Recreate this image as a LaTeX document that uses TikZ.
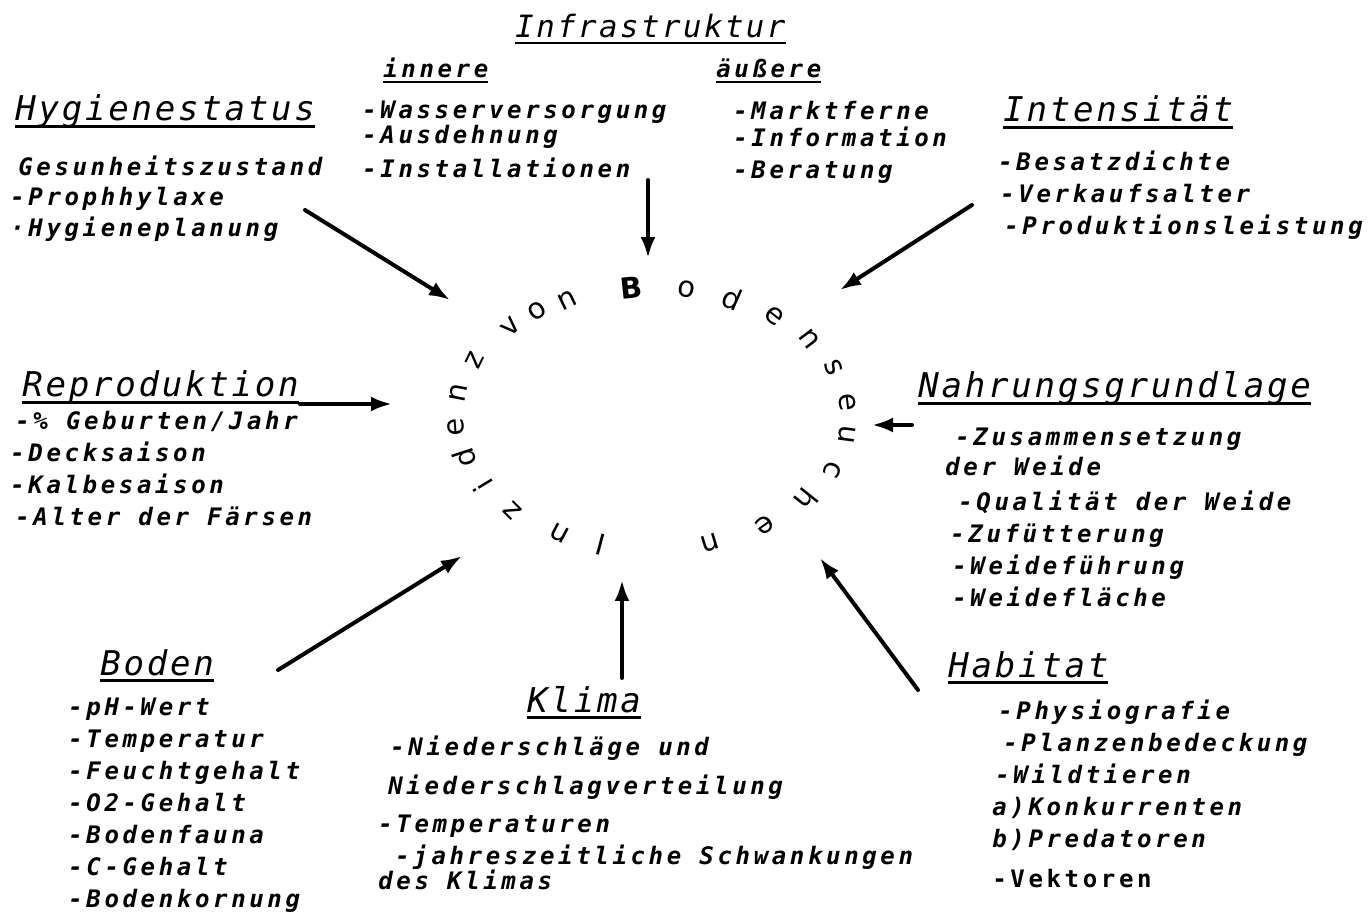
\documentclass[tikz,border=0pt]{standalone}
\usepackage{fontspec}
\setmainfont{DejaVu Sans}
\newfontfamily\listfont[LetterSpace=15]{DejaVu Sans Mono}
\newfontfamily\headfont[LetterSpace=8]{DejaVu Sans Mono}
\usepackage{tikz}
\usetikzlibrary{arrows.meta}
% thick underline for the factor names
\newsavebox\ulbox
\newcommand{\thickul}[1]{\sbox\ulbox{#1}\rlap{\rule[-0.2em]{\wd\ulbox}{0.085em}}\usebox\ulbox}
\tikzset{
  factorarrow/.style={-{Latex[length=0.42cm,width=0.3cm]}, line width=0.08cm, line cap=round},
  headline/.style={anchor=base west, inner sep=0pt,
    font=\headfont\itshape\fontsize{19.4}{24}\selectfont},
  subhead/.style={anchor=base west, inner sep=0pt,
    font=\listfont\bfseries\itshape\fontsize{13.7}{18.2}\selectfont},
  itemlist/.style={anchor=north west, inner sep=0pt, align=left,
    font=\listfont\bfseries\itshape\fontsize{13.7}{18.2}\selectfont}
}

\begin{document}
\begin{tikzpicture}[
  x=0.02cm, y=-0.02cm,
  ringletter/.style={font=\fontsize{16.5}{16.5}\selectfont, inner sep=0pt}
]
\useasboundingbox (0,0) rectangle (1372,915);

% Inzidenz ring
\foreach \ch/\ang [count=\k] in {I/255, n/242, z/225, i/211, d/198, e/184, n/169, z/154,
    v/136, o/125.5, n/115.5, {\bfseries B}/96, o/80, d/66, e/51.5, n/37, s/22.6, e/7, u/-7.5,
    c/-23.4, h/-38.5, e/-55, n/-73}
  \node[ringletter, rotate=\ang-90] at ({652+197*cos(\ang)}, {418-131*sin(\ang)}) (ring\k) {\ch};

% factors
\node[headline, font=\headfont\itshape\fontsize{17.5}{22}\selectfont] at (515,38) (infra) {\thickul{Infrastruktur}};
\node[subhead] at (383,78) (innere) {\thickul{innere}};
\node[subhead] at (716,78) (aeussere) {\thickul{äußere}};
\node[itemlist] at (362,101) (innerlist) {-Wasserversorgung\\[-0.14cm]-Ausdehnung\\[0.04cm]-Installationen};
\node[itemlist] at (733,101) (aeusserlist) {-Marktferne\\[-0.1cm]-Information\\-Beratung};

\node[headline] at (15,121) (hyg) {\thickul{Hygienestatus}};
\node[itemlist] at (10,156) (hyglist) {\hspace*{0.16cm}Gesunheitszustand\\[-0.04cm]-Prophhylaxe\\[-0.02cm]·Hygieneplanung};

\node[headline] at (1003,122) (intens) {\thickul{Intensität}};
\node[itemlist] at (998,151) (intenslist) {-Besatzdichte\\\hspace*{0.04cm}-Verkaufsalter\\\hspace*{0.12cm}-Produktionsleistung};

\node[headline] at (22,397) (repro) {\thickul{Reproduktion}};
\node[itemlist] at (10,411) (reprolist) {\hspace*{0.1cm}-\% Geburten/Jahr\\-Decksaison\\-Kalbesaison\\\hspace*{0.1cm}-Alter der Färsen};

\node[headline] at (918,398) (nahr) {\thickul{Nahrungsgrundlage}};
\node[itemlist] at (945,428) (nahrlist) {\hspace*{0.2cm}-Zusammensetzung\\[-0.04cm]der Weide\\[0.06cm]\hspace*{0.26cm}-Qualität der Weide\\\hspace*{0.1cm}-Zufütterung\\\hspace*{0.14cm}-Weideführung\\\hspace*{0.14cm}-Weidefläche};

\node[headline] at (100,675) (boden) {\thickul{Boden}};
\node[itemlist] at (68,698) (bodenlist) {-pH-Wert\\-Temperatur\\-Feuchtgehalt\\-O2-Gehalt\\-Bodenfauna\\-C-Gehalt\\-Bodenkornung};

\node[headline] at (527,712) (klima) {\thickul{Klima}};
\node[itemlist] at (378,736) (klimalist) {\hspace*{0.24cm}-Niederschläge und\\[0.14cm]\hspace*{0.2cm}Niederschlagverteilung\\[0.12cm]-Temperaturen\\\hspace*{0.34cm}-jahreszeitliche Schwankungen\\[-0.14cm]des Klimas};

\node[headline] at (948,677) (habitat) {\thickul{Habitat}};
\node[itemlist] at (992,700) (habitatlist) {\hspace*{0.12cm}-Physiografie\\\hspace*{0.22cm}-Planzenbedeckung\\\hspace*{0.06cm}-Wildtieren\\a)Konkurrenten\\b)Predatoren\\[0.16cm]{\upshape -Vektoren}};

% arrow ends
\coordinate (infra-out) at (648,180);   \coordinate (infra-in) at (648,258);
\coordinate (hyg-out) at (305,210);     \coordinate (hyg-in) at (450,300);
\coordinate (intens-out) at (972,205);  \coordinate (intens-in) at (840,290);
\coordinate (repro-out) at (300,404);   \coordinate (repro-in) at (392,404);
\coordinate (nahr-out) at (912,425);    \coordinate (nahr-in) at (872,425);
\coordinate (boden-out) at (278,670);   \coordinate (boden-in) at (462,556);
\coordinate (klima-out) at (622,678);   \coordinate (klima-in) at (622,580);
\coordinate (habitat-out) at (918,690); \coordinate (habitat-in) at (820,558);

\draw[factorarrow] (infra-out) -- (infra-in);
\draw[factorarrow] (hyg-out) -- (hyg-in);
\draw[factorarrow] (intens-out) -- (intens-in);
\draw[factorarrow] (repro-out) -- (repro-in);
\draw[factorarrow] (nahr-out) -- (nahr-in);
\draw[factorarrow] (boden-out) -- (boden-in);
\draw[factorarrow] (klima-out) -- (klima-in);
\draw[factorarrow] (habitat-out) -- (habitat-in);
\end{tikzpicture}
\end{document}
